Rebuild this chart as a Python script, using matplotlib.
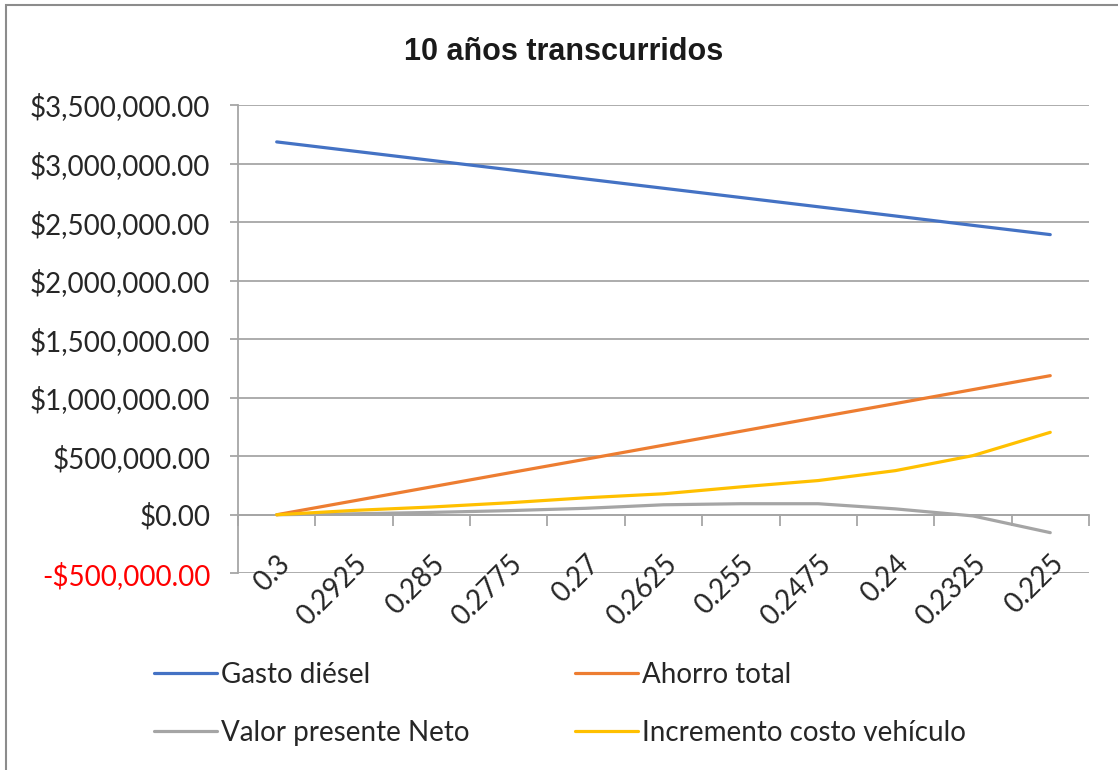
import matplotlib
matplotlib.use("Agg")
import matplotlib.pyplot as plt
from matplotlib.ticker import FuncFormatter, FixedLocator
from matplotlib.transforms import ScaledTranslation
from matplotlib.patches import Rectangle

# tasa de descuento en el eje x
categorias = ["0.3", "0.2925", "0.285", "0.2775", "0.27", "0.2625",
              "0.255", "0.2475", "0.24", "0.2325", "0.225"]

gasto_diesel = [3185000, 3106000, 3027000, 2948000, 2868000, 2789000,
                2710000, 2631000, 2552000, 2472000, 2393000]
ahorro_total = [0, 119000, 238000, 357000, 475000, 594000,
                713000, 832000, 950000, 1069000, 1188000]
valor_presente_neto = [0, 8000, 20000, 35000, 55000, 85000,
                       94000, 94000, 50000, -10000, -153000]
incremento_costo = [0, 37000, 66000, 102000, 145000, 179000,
                    238000, 292000, 377000, 505000, 704000]

series = [
    ("Gasto diésel", gasto_diesel, "#4472C4"),
    ("Ahorro total", ahorro_total, "#ED7D31"),
    ("Valor presente Neto", valor_presente_neto, "#A5A5A5"),
    ("Incremento costo vehículo", incremento_costo, "#FFC000"),
]

plt.rcParams['font.family'] = ['Lato', 'DejaVu Sans']
FS = 20

fig = plt.figure(figsize=(11.18, 7.7), dpi=100)
ax = fig.add_axes([0.2129, 0.2555, 0.7611, 0.6081])

x = list(range(len(categorias)))
handles = []
for nombre, valores, color in series:
    h, = ax.plot(x, valores, color=color, lw=2.3, label=nombre,
                 solid_capstyle='round', zorder=3)
    handles.append(h)

ax.set_xlim(-0.5, len(categorias) - 0.5)
ax.set_ylim(-500000, 3500000)
ax.set_yticks(range(-500000, 3500001, 500000))
ax.grid(axis='y', color='#A6A6A6', lw=1.3)
ax.set_axisbelow(True)


def moneda(v, pos):
    if v < 0:
        return "-${:,.2f}".format(-v)
    return "${:,.2f}".format(v)


ax.yaxis.set_major_formatter(FuncFormatter(moneda))
ax.tick_params(axis='y', length=6, width=1.3, color='#A6A6A6', pad=14,
               labelsize=FS, labelcolor='#262626')
for lbl, val in zip(ax.get_yticklabels(), ax.get_yticks()):
    if val < 0:
        lbl.set_color('#FF0000')

# eje de categorías cruzando en $0
for s in ['top', 'right']:
    ax.spines[s].set_visible(False)
ax.spines['left'].set_color('#A6A6A6')
ax.spines['left'].set_linewidth(1.3)
ax.spines['bottom'].set_position(('data', 0))
ax.spines['bottom'].set_color('#A6A6A6')
ax.spines['bottom'].set_linewidth(1.3)
ax.xaxis.set_major_locator(FixedLocator([i + 0.5 for i in range(-1, len(categorias))]))
ax.xaxis.set_major_formatter(FuncFormatter(lambda v, p: ""))
ax.tick_params(axis='x', length=8, width=1.3, color='#A6A6A6')

off = ScaledTranslation(9 / 100, -45 / 100, fig.dpi_scale_trans)
for i, cat in enumerate(categorias):
    ax.text(i, 0, cat, transform=ax.transData + off, rotation=45,
            rotation_mode='anchor', ha='right', va='center',
            fontsize=FS, color='#262626')

fig.text(0.504, 0.932, "10 años transcurridos", ha='center', va='center',
         fontsize=22, fontweight='bold', family='Liberation Sans',
         color='#1a1a1a')

# orden por columnas para que las filas queden como en la leyenda de Excel
orden = [handles[0], handles[2], handles[1], handles[3]]
fig.legend(handles=orden, loc='upper left', bbox_to_anchor=(0.115, 0.173),
           ncol=2, frameon=False, fontsize=FS, handlelength=2.27,
           handletextpad=0.15, columnspacing=3.8, labelspacing=1.15,
           labelcolor='#262626')

fig.patches.append(Rectangle((6 / 1118, -0.1), 1.2, 0.1 + 1 - 5 / 770,
                             transform=fig.transFigure, fill=False,
                             edgecolor='#8C8C8C', lw=1.5))

fig.savefig("out.png", dpi=100)
